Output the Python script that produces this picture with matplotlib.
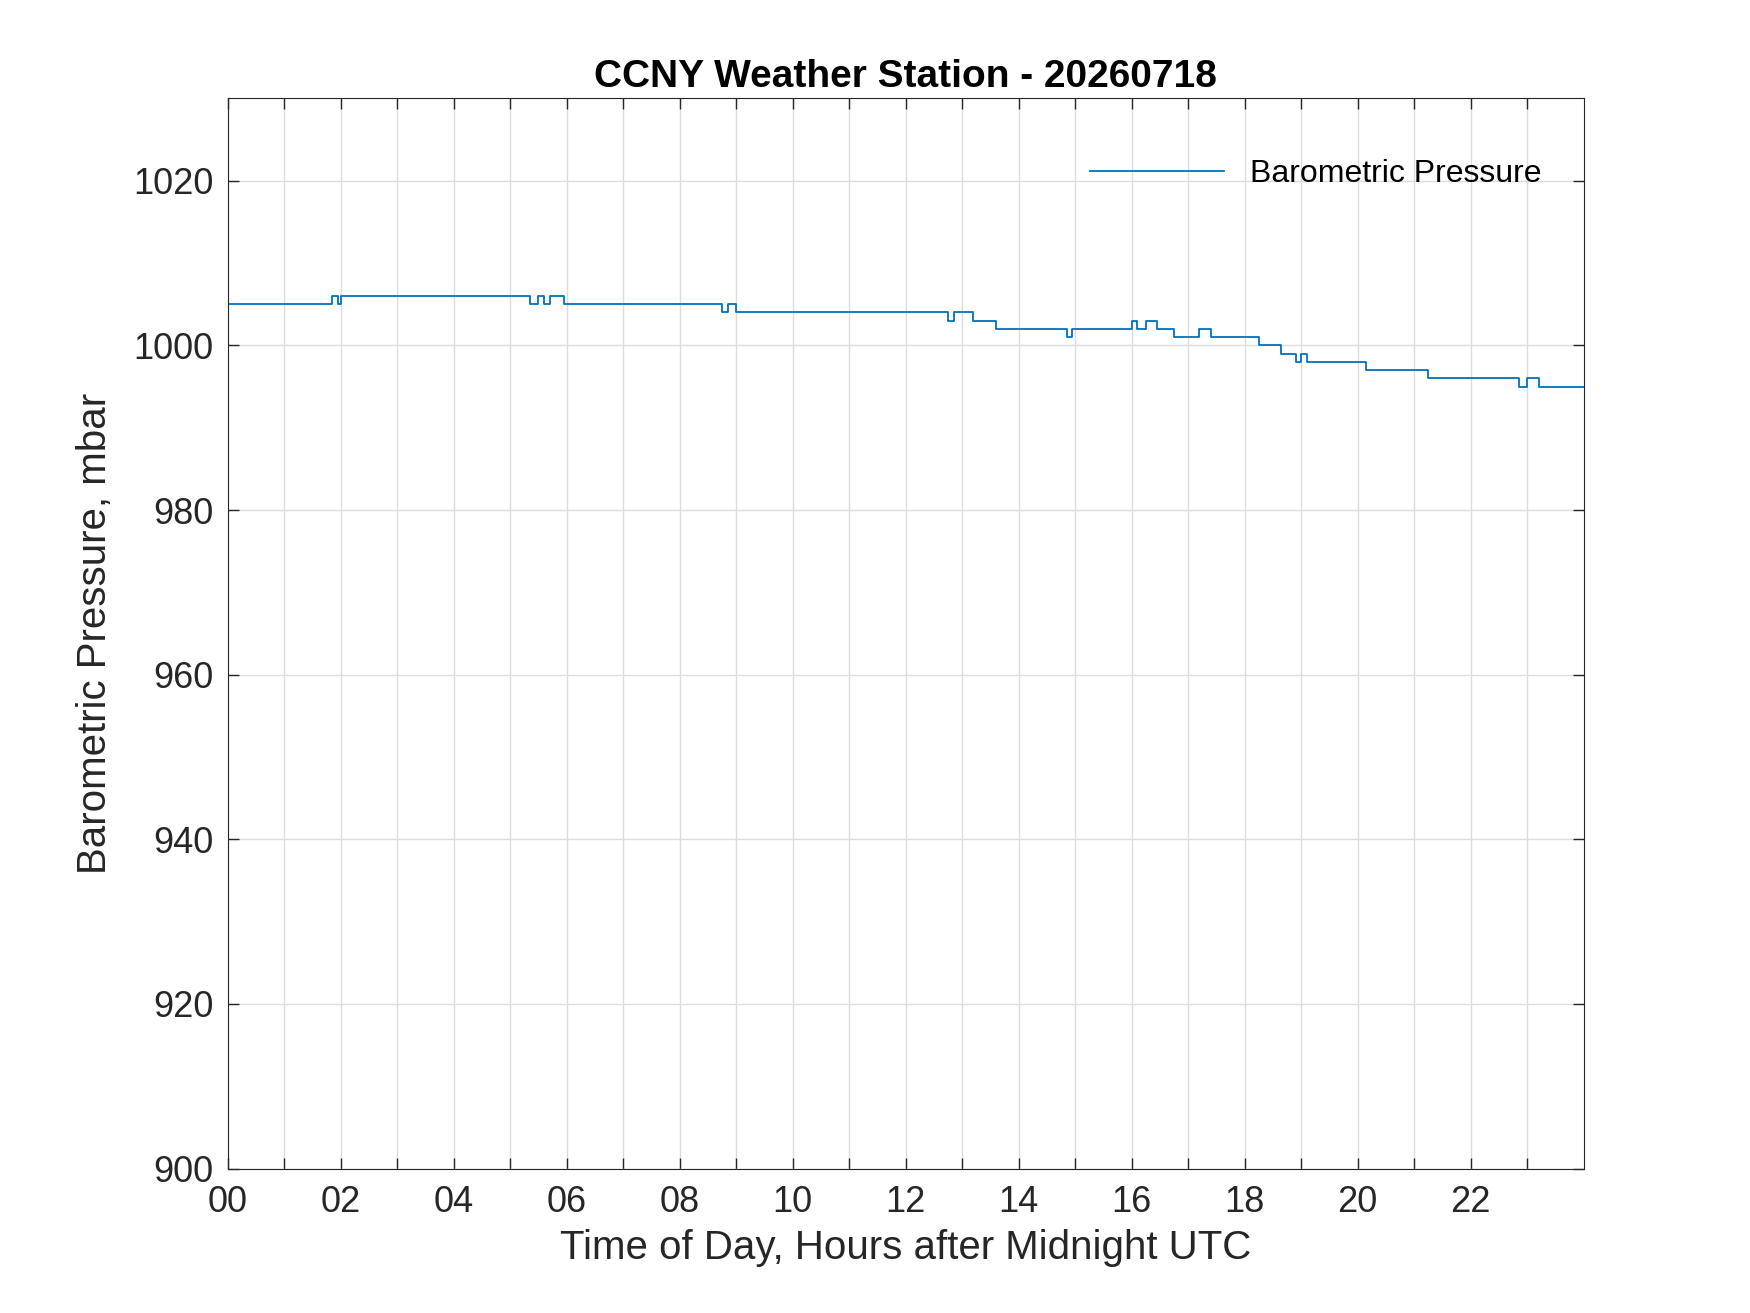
import matplotlib
matplotlib.use("Agg")
import matplotlib.pyplot as plt
import numpy as np

plt.rcParams['font.family'] = ['Liberation Sans', 'DejaVu Sans']

# step breakpoints (hour where level starts) and pressure levels (mbar)
starts = [0, 1.85, 1.95, 2.0, 5.35, 5.5, 5.6, 5.7, 5.95, 8.75, 8.85, 9.0, 12.75, 12.85,
          13.2, 13.6, 14.85, 14.95, 16.0, 16.1, 16.25, 16.45, 16.75, 17.2, 17.4, 18.25,
          18.65, 18.9, 19.0, 19.1, 20.15, 21.25, 22.85, 23.0, 23.2]
levels = [1005, 1006, 1005, 1006, 1005, 1006, 1005, 1006, 1005, 1004, 1005, 1004, 1003, 1004,
          1003, 1002, 1001, 1002, 1003, 1002, 1003, 1002, 1001, 1002, 1001, 1000,
          999, 998, 999, 998, 997, 996, 995, 996, 995]
end_hour = 24.0
tick_labels = ['00', '02', '04', '06', '08', '10', '12', '14', '16', '18', '20', '22']

fig = plt.figure(figsize=(17.5, 13.13), dpi=100)
ax = fig.add_axes([0.13, 0.11, 0.775, 0.815])
x = list(starts) + [end_hour]
y = list(levels) + [levels[-1]]
ax.step(x, y, where='post', color='#0072BD', lw=1.3, label='Barometric Pressure')

ax.set_xlim(0, 24)
ax.set_ylim(900, 1030)
ax.set_xticks(np.arange(0, 24, 2))
ax.set_xticklabels(tick_labels)
ax.set_xticks(np.arange(1, 24, 2), minor=True)
ax.set_yticks(np.arange(900, 1021, 20))
ax.grid(True, which='both', axis='x', color='#dcdcdc', lw=1.0)
ax.grid(True, which='major', axis='y', color='#dcdcdc', lw=1.0)
ax.tick_params(which='both', direction='in', top=True, right=True, length=8, width=1,
               labelsize=26, colors='#262626')
ax.tick_params(axis='x', pad=12)
ax.tick_params(axis='y', pad=10)
for s in ax.spines.values():
    s.set_color('#262626')
ax.set_xlabel('Time of Day, Hours after Midnight UTC', fontsize=29, color='#262626', labelpad=6)
ax.set_ylabel('Barometric Pressure, mbar', fontsize=29, color='#262626', labelpad=14)
ax.set_title('CCNY Weather Station - 20260718', fontsize=28, fontweight='bold', pad=8)
leg = ax.legend(loc='upper right', fontsize=23, frameon=False, handlelength=4.2,
                bbox_to_anchor=(0.99, 0.97))
fig.savefig('out.png', dpi=100, facecolor='white')
